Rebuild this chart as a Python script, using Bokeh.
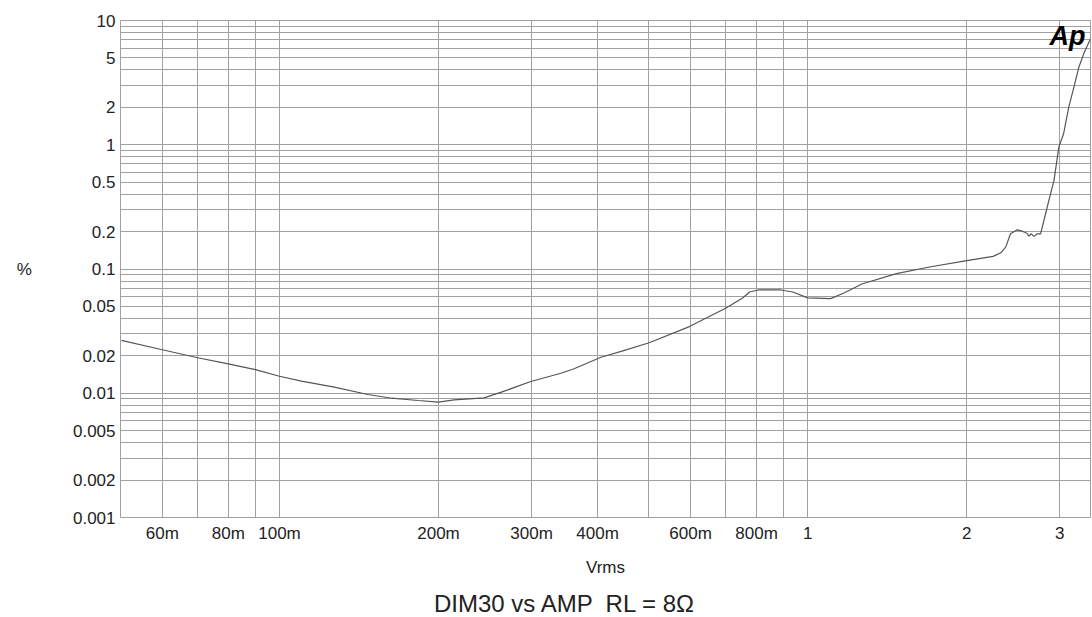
from bokeh.plotting import figure
from bokeh.models import FixedTicker, Label, ColumnDataSource, Div
from bokeh.layouts import column
from bokeh.embed import file_html
from bokeh.resources import INLINE

# ---- data ----
vrms = [0.0502, 0.06, 0.07, 0.08, 0.09, 0.10, 0.110, 0.127, 0.147, 0.163, 0.183,
        0.200, 0.214, 0.244, 0.263, 0.299, 0.341, 0.361, 0.406, 0.445, 0.501,
        0.597, 0.699, 0.753, 0.776, 0.806, 0.889, 0.937, 1.0, 1.105, 1.174,
        1.266, 1.472, 1.71, 1.988, 2.243, 2.32, 2.37, 2.42, 2.493, 2.547,
        2.60, 2.623, 2.65, 2.68, 2.72, 2.759, 2.80, 2.86, 2.925, 2.988, 3.05,
        3.12, 3.19, 3.26, 3.33, 3.43]
thd_pct = [0.0266, 0.0224, 0.0193, 0.01726, 0.0155, 0.01371, 0.0125, 0.0112,
           0.00977, 0.00912, 0.00874, 0.00848, 0.00885, 0.00919, 0.0102,
           0.01244, 0.01449, 0.01574, 0.0195, 0.0218, 0.0255, 0.0344, 0.0483,
           0.0585, 0.0653, 0.0678, 0.0678, 0.0653, 0.0585, 0.0578, 0.0644,
           0.0757, 0.0917, 0.1042, 0.1162, 0.1263, 0.135, 0.150, 0.192, 0.2066,
           0.2015, 0.194, 0.184, 0.192, 0.183, 0.192, 0.192, 0.2456, 0.3557,
           0.515, 0.957, 1.225, 2.005, 2.90, 4.21, 5.39, 7.13]

x_major = [0.06, 0.08, 0.1, 0.2, 0.3, 0.4, 0.6, 0.8, 1, 2, 3]
x_labels = ["60m", "80m", "100m", "200m", "300m", "400m", "600m", "800m", "1", "2", "3"]
x_minor = [0.07, 0.09, 0.5, 0.7, 0.9]

y_major = [0.001, 0.002, 0.005, 0.01, 0.02, 0.05, 0.1, 0.2, 0.5, 1, 2, 5, 10]
y_labels = ["0.001", "0.002", "0.005", "0.01", "0.02", "0.05", "0.1", "0.2", "0.5", "1", "2", "5", "10"]
y_minor = [m * d for d in (0.001, 0.01, 0.1, 1) for m in (3, 4, 6, 7, 8, 9)]

title_text = "DIM30 vs AMP \u00a0RL = 8\u03a9"

GRID = "#a0a0a0"
FONT = "Liberation Sans"
TXT = "#222222"

p = figure(width=1092, height=585, x_axis_type="log", y_axis_type="log",
           x_range=(0.05, 3.43), y_range=(0.001, 10),
           output_backend="svg", toolbar_location=None,
           min_border_left=120, min_border_right=2, min_border_top=20,
           min_border_bottom=68)
p.background_fill_color = "white"
p.border_fill_color = "white"
p.outline_line_color = GRID
p.outline_line_width = 1

for ax, major, minor, labels in ((p.xaxis[0], x_major, x_minor, x_labels),
                                 (p.yaxis[0], y_major, y_minor, y_labels)):
    ax.ticker = FixedTicker(ticks=major, minor_ticks=minor)
    ax.major_label_overrides = {float(v): t for v, t in zip(major, labels)}
    ax.axis_line_color = None
    ax.major_tick_line_color = None
    ax.minor_tick_line_color = None
    ax.major_tick_out = 0
    ax.major_tick_in = 0
    ax.minor_tick_out = 0
    ax.minor_tick_in = 0
    ax.major_label_text_font = FONT
    ax.major_label_text_font_size = "17px"
    ax.major_label_text_color = TXT
    ax.axis_label_text_font = FONT
    ax.axis_label_text_font_size = "17px"
    ax.axis_label_text_font_style = "normal"
    ax.axis_label_text_color = TXT

p.xaxis.axis_label = "Vrms"
p.xaxis.major_label_standoff = 6
p.xaxis.axis_label_standoff = 12
p.yaxis.axis_label = "%"
p.yaxis.axis_label_orientation = "horizontal"
p.yaxis.major_label_standoff = 5
p.yaxis.axis_label_standoff = 38

for g in (p.xgrid[0], p.ygrid[0]):
    g.grid_line_color = GRID
    g.grid_line_width = 1
    g.minor_grid_line_color = GRID
    g.minor_grid_line_width = 1

src = ColumnDataSource(dict(x=vrms, y=thd_pct))
p.line("x", "y", source=src, line_color="#555555", line_width=1.2)

logo = Label(x=3.43, y=10, text="Ap", text_align="right", text_baseline="top",
             x_offset=-5, y_offset=0, text_font=FONT, text_font_size="27px",
             text_font_style="bold italic", text_color="black")
p.add_layout(logo)

caption = Div(text=title_text, width=1092, height=32,
              styles={"font-family": "'Liberation Sans', Arial, sans-serif",
                      "font-size": "24px", "color": TXT, "line-height": "28px",
                      "padding-left": "429px", "white-space": "pre",
                      "background-color": "white"})

layout = column(p, caption, spacing=0)
open("out.html", "w").write(file_html(layout, INLINE))
